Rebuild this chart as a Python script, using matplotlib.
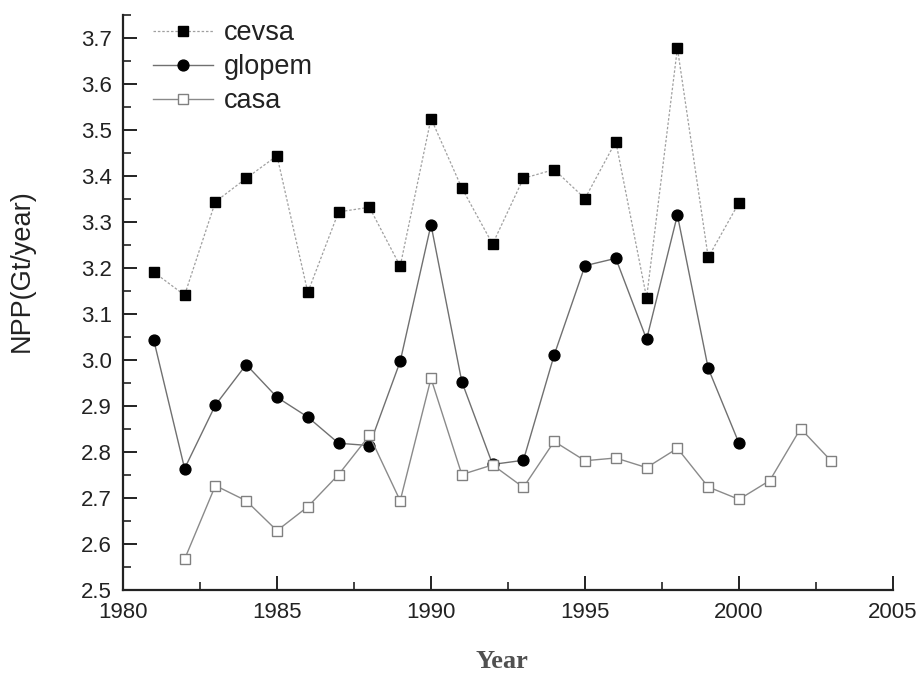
import matplotlib
matplotlib.use("Agg")
import matplotlib.pyplot as plt
from matplotlib.ticker import MultipleLocator, FormatStrFormatter

plt.rcParams['font.family'] = ['Liberation Sans', 'DejaVu Sans']

years_cevsa = list(range(1981, 2001))
cevsa = [3.191, 3.141, 3.344, 3.395, 3.444, 3.147, 3.322, 3.332, 3.204, 3.525,
         3.374, 3.252, 3.395, 3.414, 3.351, 3.475, 3.135, 3.678, 3.223, 3.342]

years_glopem = list(range(1981, 2001))
glopem = [3.043, 2.764, 2.902, 2.990, 2.919, 2.876, 2.819, 2.814, 2.997, 3.294,
          2.953, 2.773, 2.782, 3.011, 3.205, 3.221, 3.045, 3.315, 2.982, 2.819]

years_casa = list(range(1982, 2004))
casa = [2.567, 2.727, 2.694, 2.629, 2.681, 2.751, 2.836, 2.694, 2.960, 2.751,
        2.772, 2.723, 2.823, 2.781, 2.787, 2.766, 2.808, 2.724, 2.697, 2.738,
        2.851, 2.780]

W, H = 920, 673
fig = plt.figure(figsize=(W / 100, H / 100), dpi=100)
ax = fig.add_axes([123 / W, 1 - 590 / H, (893 - 123) / W, (590 - 15) / H])

ax.plot(years_cevsa, cevsa, color='#a0a0a0', lw=0.9, ls=(0, (2, 1.5)),
        marker='s', ms=7.2, mfc='black', mec='black', label='cevsa')
ax.plot(years_glopem, glopem, color='#707070', lw=1.0, ls='-',
        marker='o', ms=7.8, mfc='black', mec='black', label='glopem')
ax.plot(years_casa, casa, color='#8a8a8a', lw=1.0, ls='-',
        marker='s', ms=7.2, mfc='white', mec='#808080', mew=1.0, label='casa')

ax.set_xlim(1980, 2005)
ax.set_ylim(2.5, 3.75)
ax.xaxis.set_major_locator(MultipleLocator(5))
ax.xaxis.set_minor_locator(MultipleLocator(2.5))
ax.yaxis.set_major_locator(MultipleLocator(0.1))
ax.yaxis.set_minor_locator(MultipleLocator(0.05))
ax.yaxis.set_major_formatter(FormatStrFormatter('%.1f'))

for s in ('top', 'right'):
    ax.spines[s].set_visible(False)
for s in ('left', 'bottom'):
    ax.spines[s].set_linewidth(1.6)
    ax.spines[s].set_color('#222222')

ax.tick_params(which='major', direction='in', length=10, width=1.4,
               labelsize=16, colors='#222222')
ax.tick_params(axis='x', which='major', pad=9)
ax.tick_params(axis='y', which='major', pad=8)
ax.tick_params(which='minor', direction='in', length=6, width=1.2, colors='#222222')

# axis titles placed in figure pixel coordinates
fig.text(22 / W, 1 - 271 / H, 'NPP(Gt/year)', rotation=90, ha='center', va='center',
         fontsize=19.5, color='#222222')
fig.text(502 / W, 1 - 662 / H, 'Year', ha='center', va='center', fontsize=19,
         fontweight='bold', color='#505050', family=['Liberation Serif', 'DejaVu Serif'])

leg = ax.legend(loc='upper left', frameon=False, fontsize=19.5,
                handlelength=2.2, handletextpad=0.4, labelspacing=0.3,
                borderaxespad=0, borderpad=0,
                bbox_to_anchor=((153 - 123) / 770, 1 - (20 - 15) / 575))
for t in leg.get_texts():
    t.set_color('#222222')

fig.savefig('out.png', dpi=100)
